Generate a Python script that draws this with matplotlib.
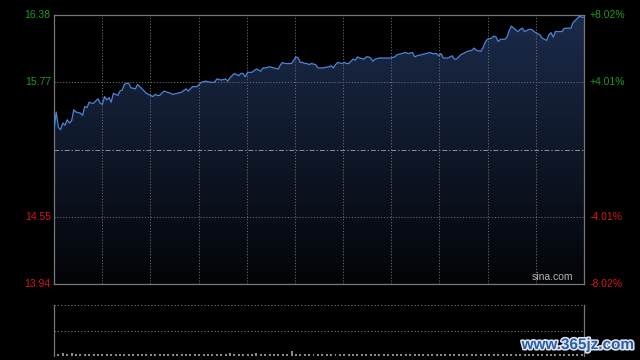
import numpy as np
import matplotlib.pyplot as plt
import matplotlib.patheffects as pe
from matplotlib.patches import Polygon

# intraday minute index and price
minutes = [0, 1, 2, 3, 4, 5, 6, 7, 8, 9, 10, 12, 13, 14, 15, 16, 17, 18, 20, 21,
           22, 23, 24, 25, 26, 27, 29, 30, 31, 32, 33, 34, 35, 37, 38, 40, 42, 45, 46, 47,
           48, 49, 50, 53, 54, 56, 58, 60, 61, 63, 65, 66, 67, 69, 71, 73, 74, 76, 78, 79,
           80, 82, 84, 85, 86, 87, 88, 90, 92, 94, 95, 96, 98, 100, 102, 103, 104, 105, 106, 108,
           110, 111, 112, 113, 114, 115, 116, 117, 119, 120, 122, 125, 126, 127, 128, 129, 131, 132, 133, 134,
           136, 137, 138, 139, 141, 142, 143, 144, 145, 146, 148, 150, 151, 153, 155, 156, 158, 160, 161, 163,
           164, 165, 167, 169, 171, 172, 174, 175, 176, 177, 179, 181, 182, 183, 185, 186, 188, 190, 191, 192,
           194, 195, 196, 197, 199, 200, 201, 202, 203, 205, 206, 207, 208, 209, 211, 212, 213, 214, 216, 217,
           219, 221, 222, 224, 225, 226, 227, 228, 229, 231, 232, 233, 235, 236, 238, 239, 240, 241]
prices = [15.34, 15.50, 15.36, 15.34, 15.40, 15.38, 15.43, 15.40, 15.42, 15.52, 15.50, 15.49, 15.47, 15.55, 15.54, 15.59, 15.58, 15.58, 15.62, 15.58,
          15.57, 15.64, 15.61, 15.63, 15.59, 15.67, 15.65, 15.69, 15.70, 15.75, 15.76, 15.76, 15.72, 15.71, 15.75, 15.71, 15.67, 15.64, 15.66, 15.65,
          15.65, 15.67, 15.69, 15.67, 15.66, 15.67, 15.68, 15.71, 15.69, 15.73, 15.73, 15.75, 15.77, 15.78, 15.77, 15.77, 15.80, 15.79, 15.80, 15.78,
          15.81, 15.85, 15.83, 15.85, 15.85, 15.82, 15.86, 15.86, 15.89, 15.87, 15.90, 15.90, 15.91, 15.90, 15.89, 15.93, 15.95, 15.94, 15.94, 15.94,
          16.00, 15.99, 15.95, 15.95, 15.94, 15.94, 15.93, 15.94, 15.93, 15.90, 15.90, 15.91, 15.92, 15.90, 15.93, 15.95, 15.94, 15.95, 15.94, 15.94,
          15.98, 15.97, 16.00, 15.99, 15.98, 16.00, 16.00, 15.99, 15.96, 15.98, 15.99, 15.99, 15.99, 15.99, 16.00, 16.02, 16.03, 16.04, 16.03, 16.04,
          16.00, 16.01, 16.02, 16.03, 16.04, 16.03, 16.03, 16.01, 16.03, 15.99, 15.99, 16.01, 15.98, 15.98, 16.02, 16.03, 16.05, 16.06, 16.08, 16.06,
          16.05, 16.08, 16.13, 16.16, 16.17, 16.19, 16.18, 16.14, 16.16, 16.16, 16.18, 16.24, 16.28, 16.26, 16.23, 16.25, 16.26, 16.23, 16.25, 16.25,
          16.22, 16.20, 16.17, 16.15, 16.20, 16.22, 16.18, 16.23, 16.23, 16.23, 16.26, 16.26, 16.26, 16.31, 16.35, 16.37, 16.36, 16.36]

price_ticks = [16.38, 15.77, 14.55, 13.94]
pct_labels = ['+8.02%', '+4.01%', '-4.01%', '-8.02%']
prev_close = 15.16

# volume, every 2 minutes (tiny bars in the lower panel)
vol_minutes = list(range(0, 242, 2))
volumes = [6, 4, 6, 3, 5, 3, 4, 3, 3, 4, 3, 3, 4, 3, 3, 3, 4, 3, 3, 3,
           3, 3, 3, 3, 3, 3, 3, 3, 3, 3, 3, 3, 3, 3, 3, 3, 3, 3, 3, 3,
           5, 3, 3, 3, 3, 3, 5, 3, 3, 3, 3, 3, 3, 3, 10, 3, 3, 3, 3, 3,
           3, 3, 3, 3, 3, 3, 3, 3, 3, 3, 3, 3, 3, 3, 3, 3, 3, 3, 3, 3,
           3, 3, 3, 3, 3, 3, 3, 3, 3, 3, 3, 3, 3, 3, 3, 3, 3, 3, 3, 3,
           4, 3, 3, 3, 3, 3, 3, 3, 3, 3, 3, 3, 3, 3, 3, 3, 4, 3, 3, 3, 4]

plt.rcParams['font.family'] = ['Liberation Sans', 'DejaVu Sans']
GREEN = '#1f9a1f'
RED = '#d81414'
GRID = '#6a6a6a'

fig = plt.figure(figsize=(6.4, 3.6), dpi=100, facecolor='black')
ax = fig.add_axes([54 / 640, 1 - 284 / 360, 530 / 640, 269 / 360])
ax.set_facecolor('black')
ax.set_xlim(0, 241)
ax.set_ylim(13.94, 16.38)

# gradient fill under the price line
grad = np.linspace(0, 1, 256).reshape(-1, 1)
cmap = plt.matplotlib.colors.LinearSegmentedColormap.from_list('g', ['#030407', '#1b2b4b'])
img = ax.imshow(grad, cmap=cmap, origin='lower', aspect='auto',
                extent=[0, 241, 13.94, 16.38], zorder=1)
poly = Polygon(list(zip(minutes, prices)) + [(241, 13.94), (0, 13.94)],
               closed=True, facecolor='none', edgecolor='none')
ax.add_patch(poly)
img.set_clip_path(poly)

ax.plot(minutes, prices, color='#4d84d6', lw=0.9, zorder=3)

# grid
for v in [15.77, 14.55]:
    ax.axhline(v, color=GRID, lw=0.7, ls=(0, (1.2, 1.8)), zorder=2)
for k in range(1, 11):
    ax.axvline(k * 241 / 11, color=GRID, lw=0.7, ls=(0, (1.2, 1.8)), zorder=2)
ax.axhline(prev_close, color='#8a9099', lw=0.7, ls=(0, (5, 2, 1.5, 2)), zorder=2)

for s in ax.spines.values():
    s.set_color('#777777')
    s.set_linewidth(0.9)
ax.set_xticks([])
ax.set_yticks([])

for v, lab, col in zip(price_ticks, pct_labels, [GREEN, GREEN, RED, RED]):
    ax.text(-0.006, v, f'{v:.2f}', transform=ax.get_yaxis_transform(), ha='right',
            va='center', color=col, fontsize=7.5)
    ax.text(1.011, v, lab, transform=ax.get_yaxis_transform(), ha='left',
            va='center', color=col, fontsize=7.5)

ax.text(0.979, 0.008, 'sina.com', transform=ax.transAxes, ha='right', va='bottom',
        color='#b4b4b4', fontsize=7.5, zorder=4)

# lower volume panel
ax2 = fig.add_axes([54 / 640, 1 - 356 / 360, 530 / 640, 51 / 360])
ax2.set_facecolor('black')
ax2.set_xlim(0, 241)
ax2.set_ylim(0, 100)
ax2.bar(vol_minutes, volumes, width=0.9, color='#8a8a8a', zorder=2)
ax2.axhline(100, color=GRID, lw=0.8, ls=(0, (1.2, 1.8)))
ax2.axhline(50, color=GRID, lw=0.8, ls=(0, (1.2, 1.8)))
for s in ['top', 'bottom']:
    ax2.spines[s].set_visible(False)
for s in ['left', 'right']:
    ax2.spines[s].set_color('#777777')
    ax2.spines[s].set_linewidth(0.9)
ax2.set_xticks([])
ax2.set_yticks([])

fig.text(634 / 640, 1 - 345 / 360, 'www.365jz.com', ha='right', va='center',
         color='#2a5ea8', fontsize=11, fontweight='bold',
         path_effects=[pe.withStroke(linewidth=2.2, foreground='#dfe6f0')])

fig.savefig('out.png', dpi=100, facecolor='black')
